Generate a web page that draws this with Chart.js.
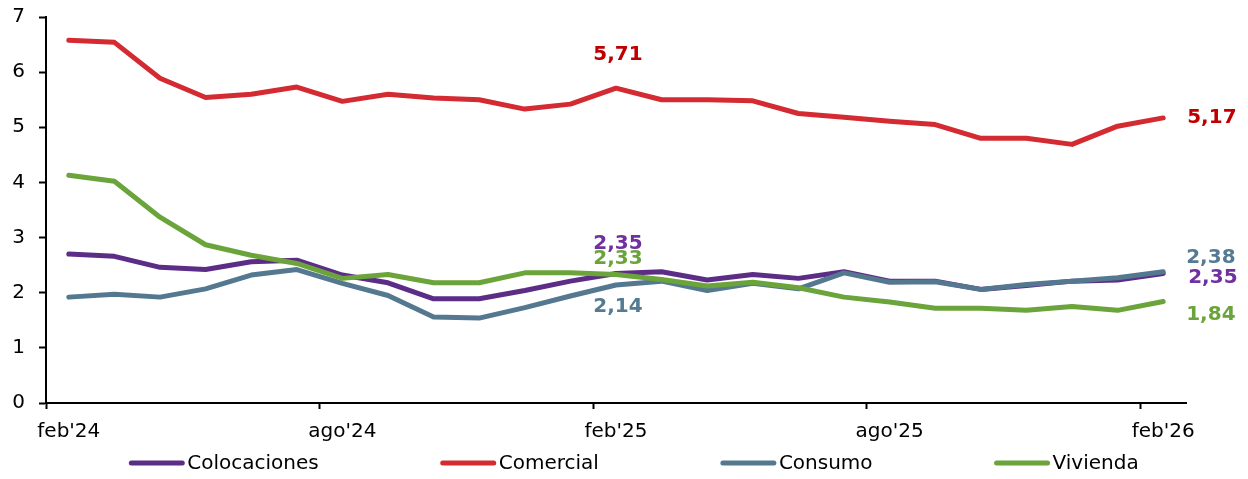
<!DOCTYPE html>
<html>
<head>
<meta charset="utf-8">
<script src="https://cdn.jsdelivr.net/npm/chart.js@4"></script>
<style>
  html, body { margin: 0; padding: 0; background: #ffffff; }
  #wrap { width: 1248px; height: 479px; position: relative; }
</style>
</head>
<body>
<div id="wrap"><canvas id="rateChart"></canvas></div>
<script>
const months = ["feb'24", "mar'24", "abr'24", "may'24", "jun'24", "jul'24", "ago'24", "sep'24", "oct'24", "nov'24", "dic'24", "ene'25",
  "feb'25", "mar'25", "abr'25", "may'25", "jun'25", "jul'25", "ago'25", "sep'25", "oct'25", "nov'25", "dic'25", "ene'26", "feb'26"];
const tickEvery = 6;
const yTicks = [0, 1, 2, 3, 4, 5, 6, 7];

const colocaciones = [2.70, 2.66, 2.46, 2.42, 2.56, 2.59, 2.32, 2.18, 1.89, 1.89, 2.04, 2.21, 2.35, 2.38, 2.23, 2.33, 2.26, 2.38, 2.21, 2.21, 2.06, 2.13, 2.21, 2.23, 2.35];
const comercial = [6.58, 6.54, 5.89, 5.54, 5.60, 5.73, 5.47, 5.60, 5.53, 5.50, 5.33, 5.42, 5.71, 5.50, 5.50, 5.48, 5.25, 5.18, 5.11, 5.05, 4.80, 4.80, 4.69, 5.02, 5.17];
const consumo = [1.92, 1.97, 1.92, 2.07, 2.32, 2.42, 2.17, 1.95, 1.56, 1.54, 1.73, 1.94, 2.14, 2.21, 2.04, 2.17, 2.07, 2.36, 2.19, 2.20, 2.06, 2.15, 2.21, 2.27, 2.38];
const vivienda = [4.13, 4.02, 3.37, 2.87, 2.68, 2.53, 2.26, 2.33, 2.18, 2.18, 2.36, 2.36, 2.33, 2.24, 2.12, 2.19, 2.09, 1.92, 1.83, 1.72, 1.72, 1.68, 1.75, 1.68, 1.84];

const seriesNames = ["Colocaciones", "Comercial", "Consumo", "Vivienda"];
const lineColors = ["#5c2d86", "#d42a31", "#547890", "#6ba43a"];
const labelColors = ["#7030a0", "#c00000", "#557b93", "#6ba43a"];

// which points get a value label, and where it sits relative to the point
const valueLabels = [
  { series: 1, index: 12, dx: 2, dy: -33, align: "center" },
  { series: 1, index: 24, dx: 24, dy: 0, align: "left" },
  { series: 0, index: 12, dx: 2, dy: -30, align: "center" },
  { series: 3, index: 12, dx: 2, dy: -16, align: "center" },
  { series: 2, index: 12, dx: 2, dy: 22, align: "center" },
  { series: 2, index: 24, dx: 23, dy: -14, align: "left" },
  { series: 0, index: 24, dx: 25, dy: 4, align: "left" },
  { series: 3, index: 24, dx: 23, dy: 13, align: "left" }
];

const fontFamily = "'DejaVu Sans', Verdana, sans-serif";
const fmt = (v) => v.toFixed(2).replace(".", ",");

const valueLabelPlugin = {
  id: "valueLabels",
  afterDatasetsDraw(chart) {
    const { ctx, scales } = chart;
    ctx.save();
    ctx.font = "bold 20px " + fontFamily;
    ctx.textBaseline = "middle";
    valueLabels.forEach((lab) => {
      const value = chart.data.datasets[lab.series].data[lab.index];
      const x = scales.x.getPixelForValue(lab.index) + lab.dx;
      const y = scales.y.getPixelForValue(value) + lab.dy;
      ctx.fillStyle = labelColors[lab.series];
      ctx.textAlign = lab.align;
      ctx.fillText(fmt(value), x, y);
    });
    ctx.restore();
  }
};

const bottomLegend = {
  id: "bottomLegend",
  afterDraw(chart) {
    const { ctx } = chart;
    const lineLen = 55;
    const gap = 3;
    const spacing = 122;
    const centerX = 634;
    const y = 463;
    ctx.save();
    ctx.font = "20px " + fontFamily;
    const widths = seriesNames.map((n) => lineLen + gap + ctx.measureText(n).width);
    const total = widths.reduce((s, w) => s + w, 0) + spacing * (seriesNames.length - 1);
    let x = centerX - total / 2;
    seriesNames.forEach((name, i) => {
      ctx.strokeStyle = lineColors[i];
      ctx.lineWidth = 5;
      ctx.lineCap = "round";
      ctx.beginPath();
      ctx.moveTo(x + 2, y);
      ctx.lineTo(x + lineLen - 2, y);
      ctx.stroke();
      ctx.fillStyle = "#000000";
      ctx.textAlign = "left";
      ctx.textBaseline = "middle";
      ctx.fillText(name, x + lineLen + gap, y + 1);
      x += widths[i] + spacing;
    });
    ctx.restore();
  }
};

const seriesData = [colocaciones, comercial, consumo, vivienda];
const everySixth = (ctx) => (ctx.index !== undefined && ctx.index % tickEvery === 0 ? "#000000" : "rgba(0,0,0,0)");

new Chart(document.getElementById("rateChart"), {
  type: "line",
  data: {
    labels: months,
    datasets: seriesData.map((values, i) => ({
      label: seriesNames[i],
      data: values,
      borderColor: lineColors[i],
      backgroundColor: lineColors[i],
      borderWidth: 5,
      borderCapStyle: "round",
      borderJoinStyle: "round",
      pointRadius: 0,
      tension: 0,
      order: seriesData.length - i
    }))
  },
  options: {
    responsive: true,
    maintainAspectRatio: false,
    animation: false,
    layout: { padding: { top: 17, right: 62, left: 0, bottom: 0 } },
    plugins: {
      legend: { display: false },
      tooltip: { enabled: false }
    },
    scales: {
      x: {
        type: "category",
        offset: true,
        afterFit(scale) {
          scale.height = 76;
          scale.paddingLeft = 0;
          scale.paddingRight = 0;
        },
        border: { display: true, color: "#000000", width: 2 },
        grid: {
          offset: true,
          drawOnChartArea: false,
          drawTicks: true,
          tickLength: 6,
          tickWidth: 2,
          tickColor: everySixth
        },
        ticks: {
          autoSkip: false,
          maxRotation: 0,
          padding: 11,
          color: "#000000",
          font: { family: fontFamily, size: 20 },
          callback(value, index) {
            return index % tickEvery === 0 ? months[index] : "";
          }
        }
      },
      y: {
        min: 0,
        max: 7,
        afterBuildTicks(scale) {
          scale.ticks = yTicks.map((v) => ({ value: v }));
        },
        afterFit(scale) {
          scale.width = 46;
          scale.paddingTop = 0;
          scale.paddingBottom = 0;
        },
        border: { display: true, color: "#000000", width: 2 },
        grid: {
          drawOnChartArea: false,
          drawTicks: true,
          tickLength: 7,
          tickWidth: 2,
          tickColor: "#000000"
        },
        ticks: {
          padding: 14,
          color: "#000000",
          font: { family: fontFamily, size: 20 }
        }
      }
    }
  },
  plugins: [valueLabelPlugin, bottomLegend]
});
</script>
</body>
</html>
